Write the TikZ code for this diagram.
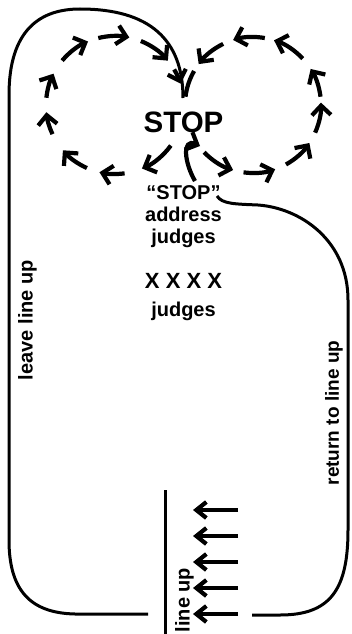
\documentclass[tikz,border=0pt]{standalone}
\usepackage{fontspec}
\setmainfont{Liberation Sans}
\usetikzlibrary{arrows.meta}
\begin{document}
\begin{tikzpicture}[x=1pt,y=1pt,yscale=-1,
  outer/.style={line width=3pt},
  darr/.style={line width=4.2pt,-{Straight Barb[length=9.5pt,width=19pt]}},
  dline/.style={line width=4.2pt},
  larr/.style={line width=4.2pt,-{Straight Barb[length=10pt,width=16pt]}},
  lbl/.style={font=\bfseries\fontsize{20}{22}\selectfont, inner sep=0pt, align=center}]
\useasboundingbox (0,0) rectangle (352,634);

% texts
\node[anchor=base, inner sep=0pt, font=\bfseries\fontsize{29.5}{30}\selectfont] (stop) at (183.5,132) {STOP};
\node[lbl, anchor=base] (q) at (183.5,199) {“STOP”};
\node[lbl, anchor=base] (addr) at (183.5,221.5) {address};
\node[lbl, anchor=base] (j1) at (183.5,243.5) {judges};
\node[anchor=base, inner sep=0pt, font=\bfseries\fontsize{22}{24}\selectfont] (xs) at (183.5,288) {X X X X};
\node[lbl, anchor=base] (j2) at (183.5,316) {judges};
\node[lbl, rotate=90] (leave) at (27.5,320) {leave line up};
\node[lbl, rotate=90, font=\bfseries\fontsize{19}{21}\selectfont] (ret) at (334,413) {return to line up};
\node[lbl, rotate=90] (lu) at (184.5,600) {line up};

% left loop of arrows
\coordinate (cl) at (115,105);
\foreach \s/\e in {36/67, 82/103, 114/139, 155/174, 186/207, 220/247, 256/282, 292/320, 329/342}
  \draw[darr] (cl) ++(\s:69) arc[start angle=\s, end angle=\e, radius=69];

% right loop of arrows
\coordinate (cr) at (253,105);
\foreach \s/\e in {136/107, 98/71, 61/34, 24/-2, -7/-32, -43/-72, -80/-107, -116/-143}
  \draw[darr] (cr) ++(\s:68) arc[start angle=\s, end angle=\e, radius=68];
\draw[dline] (cr) ++(-150:68) arc[start angle=-150, end angle=-173, radius=68];

% hook under STOP
\coordinate (hk0) at (195,181);
\coordinate (hk1) at (200,146);
\draw[darr] (hk0) .. controls (184,162) and (182,138) .. (hk1);

% leave line up path
\coordinate (lv0) at (148,614);
\coordinate (lv1) at (183,98);
\draw[outer] (lv0) -- (75,614) .. controls (30,613) and (9,590) .. (9,540)
  -- (9,95) .. controls (9,30) and (40,9) .. (80,9)
  .. controls (150,9) and (183,40) .. (lv1);

% return to line up path
\coordinate (rt0) at (217,196);
\coordinate (rt1) at (252,615);
\draw[outer] (rt0) .. controls (222,204) and (235,204) .. (258,205)
  .. controls (300,208) and (348,240) .. (348,300)
  -- (348,530) .. controls (348,590) and (330,615) .. (280,615) -- (rt1);

% line up
\coordinate (lt) at (165,490);
\coordinate (lb) at (165,634);
\draw[outer] (lt) -- (lb);
\foreach \y [count=\i] in {510,536,562,588,614} {
  \coordinate (a\i) at (238,\y);
  \coordinate (b\i) at (193,\y);
  \draw[larr] (a\i) -- (b\i);
}
\end{tikzpicture}
\end{document}
